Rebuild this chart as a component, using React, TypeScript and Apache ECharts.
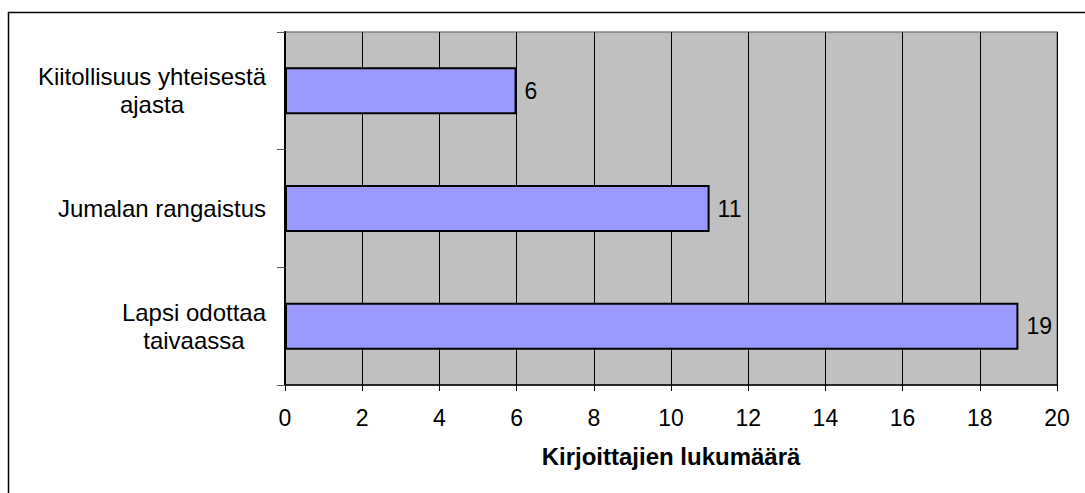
import React, { useEffect, useRef } from "react";
import * as echarts from "echarts";

const categories = [
  "Lapsi odottaa\ntaivaassa",
  "Jumalan rangaistus",
  "Kiitollisuus yhteisestä\najasta",
];
const values = [19, 11, 6];
const xTicksMin = 0;
const xTicksMax = 20;
const xTickStep = 2;
const xAxisTitle = "Kirjoittajien lukumäärä";

const FONT = "'Liberation Sans', Arial, sans-serif";

export default function App() {
  const ref = useRef<HTMLDivElement>(null);
  useEffect(() => {
    if (!ref.current) return;
    const chart = echarts.init(ref.current, undefined, { renderer: "svg" });
    chart.setOption({
      animation: false,
      textStyle: { fontFamily: FONT },
      graphic: [
        {
          type: "rect",
          shape: { x: 8.5, y: 12.5, width: 1200, height: 600 },
          style: { fill: "none", stroke: "#000", lineWidth: 1.5 },
          silent: true,
          z: -10,
        },
      ],
      grid: {
        left: 285,
        right: 28,
        top: 32,
        bottom: 108,
        show: true,
        backgroundColor: "#C0C0C0",
        borderColor: "#808080",
        borderWidth: 1.5,
      },
      xAxis: {
        type: "value",
        min: xTicksMin,
        max: xTicksMax,
        interval: xTickStep,
        name: xAxisTitle,
        nameLocation: "middle",
        nameGap: 59,
        nameTextStyle: {
          fontFamily: FONT,
          fontSize: 24,
          fontWeight: "bold",
          color: "#000",
        },
        axisLine: { show: true, lineStyle: { color: "#000", width: 1.5 } },
        axisTick: { show: true, length: 6, lineStyle: { color: "#000" } },
        axisLabel: {
          fontFamily: FONT,
          fontSize: 23,
          color: "#000",
          margin: 21,
        },
        splitLine: { show: true, lineStyle: { color: "#000", width: 1 } },
      },
      yAxis: {
        type: "category",
        data: categories,
        axisLine: { show: true, lineStyle: { color: "#000", width: 2 } },
        axisTick: {
          show: true,
          length: 8,
          lineStyle: { color: "#555" },
        },
        splitLine: { show: false },
        axisLabel: {
          margin: 19,
          align: "right",
          formatter: (v: string) =>
            v
              .split("\n")
              .map((l) => `{c|${l}}`)
              .join("\n"),
          rich: {
            c: {
              align: "center",
              fontFamily: FONT,
              fontSize: 24,
              lineHeight: 28,
              color: "#000",
            },
          },
        },
      },
      series: [
        {
          type: "bar",
          data: values,
          barCategoryGap: "60%",
          itemStyle: {
            color: "#9999FF",
            borderColor: "#000",
            borderWidth: 2,
          },
          label: {
            show: true,
            position: "right",
            distance: 8,
            fontFamily: FONT,
            fontSize: 23,
            color: "#000",
          },
        },
      ],
    });
    return () => chart.dispose();
  }, []);
  return (
    <div
      ref={ref}
      style={{ position: "absolute", left: 0, top: 0, width: 1085, height: 493 }}
    />
  );
}
